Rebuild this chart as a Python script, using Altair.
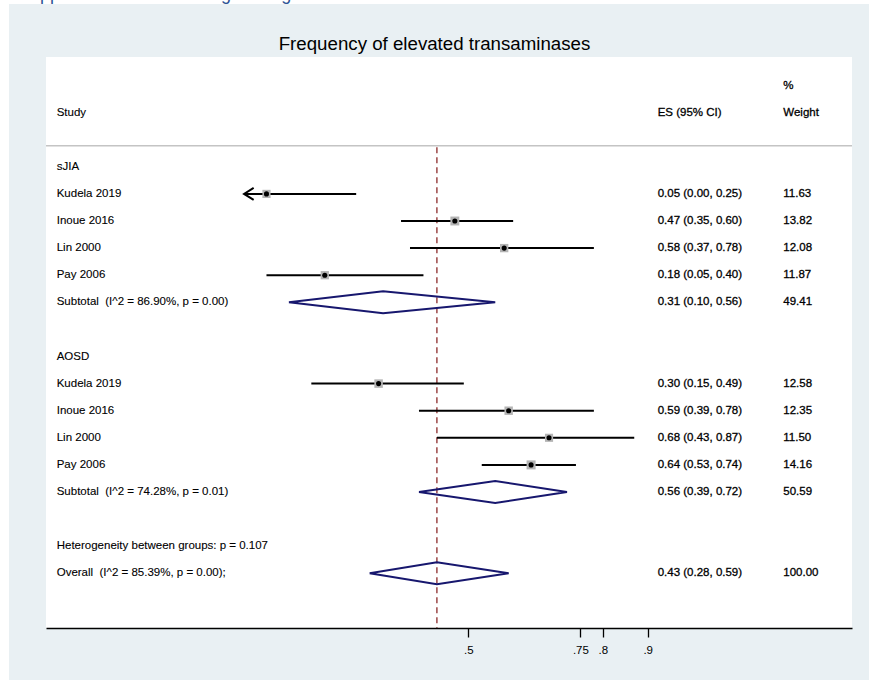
import altair as alt
import pandas as pd

# ---------------- data ----------------
groups = ["sJIA", "AOSD"]
studies = ["Kudela 2019", "Inoue 2016", "Lin 2000", "Pay 2006"]

sjia_es = [0.05, 0.47, 0.58, 0.18]
sjia_lo = [0.00, 0.35, 0.37, 0.05]
sjia_hi = [0.25, 0.60, 0.78, 0.40]
sjia_w = [11.63, 13.82, 12.08, 11.87]

aosd_es = [0.30, 0.59, 0.68, 0.64]
aosd_lo = [0.15, 0.39, 0.43, 0.53]
aosd_hi = [0.49, 0.78, 0.87, 0.74]
aosd_w = [12.58, 12.35, 11.50, 14.16]

subtotal_labels = ["Subtotal  (I^2 = 86.90%, p = 0.00)", "Subtotal  (I^2 = 74.28%, p = 0.01)"]
subtotal_es = [0.31, 0.56]
subtotal_lo = [0.10, 0.39]
subtotal_hi = [0.56, 0.72]
subtotal_w = [49.41, 50.59]

het_label = "Heterogeneity between groups: p = 0.107"
overall_label = "Overall  (I^2 = 85.39%, p = 0.00);"
overall_es, overall_lo, overall_hi, overall_w = 0.43, 0.28, 0.59, 100.00

tick_values = [0.5, 0.75, 0.8, 0.9]
title_text = "Frequency of elevated transaminases"
top_fragment = "Appendix 5. Other findings of organ involvement"
header_study, header_es, header_pct, header_w = "Study", "ES (95% CI)", "%", "Weight"

# ---------------- build table ----------------
def nb(s):
    return s.replace("  ", "\u00a0 ")

rows = []
r = 0
grp_data = [
    (sjia_es, sjia_lo, sjia_hi, sjia_w),
    (aosd_es, aosd_lo, aosd_hi, aosd_w),
]
for gi, g in enumerate(groups):
    rows.append(dict(row=r, label=g, kind="group"))
    r += 1
    es_l, lo_l, hi_l, w_l = grp_data[gi]
    for s, e, lo, hi, w in zip(studies, es_l, lo_l, hi_l, w_l):
        rows.append(dict(row=r, label=s, kind="study", es=e, lo=lo, hi=hi, w=w))
        r += 1
    rows.append(dict(row=r, label=nb(subtotal_labels[gi]), kind="sub",
                     es=subtotal_es[gi], lo=subtotal_lo[gi], hi=subtotal_hi[gi], w=subtotal_w[gi]))
    r += 2
rows.append(dict(row=r, label=het_label, kind="het"))
r += 1
rows.append(dict(row=r, label=nb(overall_label), kind="overall",
                 es=overall_es, lo=overall_lo, hi=overall_hi, w=overall_w))

df = pd.DataFrame(rows)
df["es_text"] = [f"{e:.2f} ({l:.2f}, {h:.2f})" if pd.notna(e) else "" for e, l, h in zip(df.es, df.lo, df.hi)]
df["w_text"] = [f"{w:.2f}" if pd.notna(w) else "" for w in df.w]

lbl_df = df[["row", "label"]].copy()
study_df = df[df.kind == "study"][["row", "es", "lo", "hi", "w"]].copy()
arrow_df = study_df[study_df.lo <= 0.0].copy()
num_df = df[df.es.notna()][["row", "es_text", "w_text"]].copy()

hdr_left = pd.DataFrame([dict(row=-2, label=header_study)])
hdr_es = pd.DataFrame([dict(row=-2, label=header_es)])
hdr_w = pd.DataFrame([dict(row=-3, label=header_pct), dict(row=-2, label=header_w)])

dia = []
H = 0.406
for _, d in df[df.kind.isin(["sub", "overall"])].iterrows():
    pts = [(d.lo, d.row), (d.es, d.row - H), (d.hi, d.row), (d.es, d.row + H), (d.lo, d.row)]
    for k, (x, y) in enumerate(pts):
        dia.append(dict(g=int(d.row), seq=k, x=float(x), y=float(y)))
dia_df = pd.DataFrame(dia)

# ---------------- scales ----------------
W, Hh = 806, 571
px_per_unit = 448.5
zero_px = 244.05 - 46
xmin = -zero_px / px_per_unit
xmax = xmin + W / px_per_unit
row_px = 27.1
row0_px = 166.8 - 57
rmin = -row0_px / row_px
rmax = rmin + Hh / row_px

vref_df = pd.DataFrame([{"es": overall_es, "y0": -0.72, "y1": rmax}])
sep_df = pd.DataFrame([{"y": -0.78}])

xs = alt.Scale(domain=[xmin, xmax], nice=False, zero=False)
ys = alt.Scale(domain=[rmin, rmax], nice=False, zero=False, reverse=True)
xaxis = alt.Axis(values=tick_values, labelExpr="slice(toString(datum.value), 1)", title=None,
                 grid=False, domainColor="black", domainWidth=1.4, tickColor="black",
                 tickWidth=1.3, tickSize=9, labelFont="Liberation Sans", labelFontSize=11.5,
                 labelColor="black", labelPadding=7, labelFlush=False, zindex=2)


def X(f):
    return alt.X(f, type="quantitative", scale=xs, axis=xaxis)


def Y(f):
    return alt.Y(f, type="quantitative", scale=ys, axis=None)


dummy = pd.DataFrame([{"a": 1}])
FONT = "Liberation Sans"
FS = 11.5

bg = alt.Chart(dummy).mark_rect(color="#e9f0f3").encode(
    x=alt.value(-37), x2=alt.value(823), y=alt.value(-53), y2=alt.value(623))
panel = alt.Chart(dummy).mark_rect(color="white").encode(
    x=alt.value(0), x2=alt.value(W), y=alt.value(0), y2=alt.value(Hh))
frag = alt.Chart(pd.DataFrame([{"t": top_fragment}])).mark_text(
    align="left", baseline="alphabetic", font=FONT, fontSize=18, color="#2e5395").encode(
    x=alt.value(-18), y=alt.value(-57.5), text="t:N")
title = alt.Chart(pd.DataFrame([{"t": title_text}])).mark_text(
    align="center", baseline="middle", font=FONT, fontSize=18.7, color="black").encode(
    x=alt.value(434.5 - 46), y=alt.value(43.5 - 57), text="t:N")

sep = alt.Chart(sep_df).mark_rule(color="#c4c4c4", strokeWidth=1.5).encode(
    x=alt.value(0), x2=alt.value(W), y=Y("y"))

vref = alt.Chart(vref_df).mark_rule(
    color="#8b2a2a", strokeWidth=1.3, strokeDash=[6, 4]).encode(
    x=X("es"), y=Y("y0"), y2="y1")

ci = alt.Chart(study_df).mark_rule(color="black", strokeWidth=2, strokeCap="butt").encode(
    x=X("lo"), x2="hi", y=Y("row"))
arrow = alt.Chart(arrow_df).mark_point(
    shape="M 1.6 -1 L 0 0 L 1.6 1", filled=False, stroke="black", strokeWidth=2,
    size=144, opacity=1).encode(x=X("lo"), y=Y("row"))
box = alt.Chart(study_df).mark_square(color="#b4b4b4", opacity=1).encode(
    x=X("es"), y=Y("row"),
    size=alt.Size("w:Q", scale=alt.Scale(type="linear", domain=[0, 20], range=[0, 115]), legend=None))
dot = alt.Chart(study_df).mark_circle(color="black", size=26, opacity=1).encode(
    x=X("es"), y=Y("row"))
diamond = alt.Chart(dia_df).mark_line(color="#17176e", strokeWidth=2, strokeJoin="miter").encode(
    x=X("x"), y=Y("y"), detail="g:N", order="seq:Q")


def col_text(data, xpx, field, sw=0.0):
    return alt.Chart(data).mark_text(align="left", baseline="middle", font=FONT,
                                     fontSize=FS, color="black", stroke="black",
                                     strokeWidth=sw).encode(
        x=alt.value(xpx), y=Y("row"), text=alt.Text(field, type="nominal"))


lbl = col_text(lbl_df, 10.7, "label", 0.1)
h1 = col_text(hdr_left, 10.7, "label", 0.1)
h2 = col_text(hdr_es, 611.7, "label", 0.3)
h3 = col_text(hdr_w, 737.3, "label", 0.3)
es_txt = col_text(num_df, 611.7, "es_text", 0.3)
w_txt = col_text(num_df, 737.3, "w_text", 0.3)

chart = alt.layer(
    bg, panel, frag, title, sep, vref, ci, arrow, box, dot, diamond,
    lbl, h1, h2, h3, es_txt, w_txt
).properties(
    width=W, height=Hh,
    autosize=alt.AutoSizeParams(type="none"),
    padding={"left": 46, "top": 57, "right": 17, "bottom": 52},
).configure(background="white").configure_view(strokeWidth=0)

chart.save("out.html", embed_options={"renderer": "svg", "actions": False})
